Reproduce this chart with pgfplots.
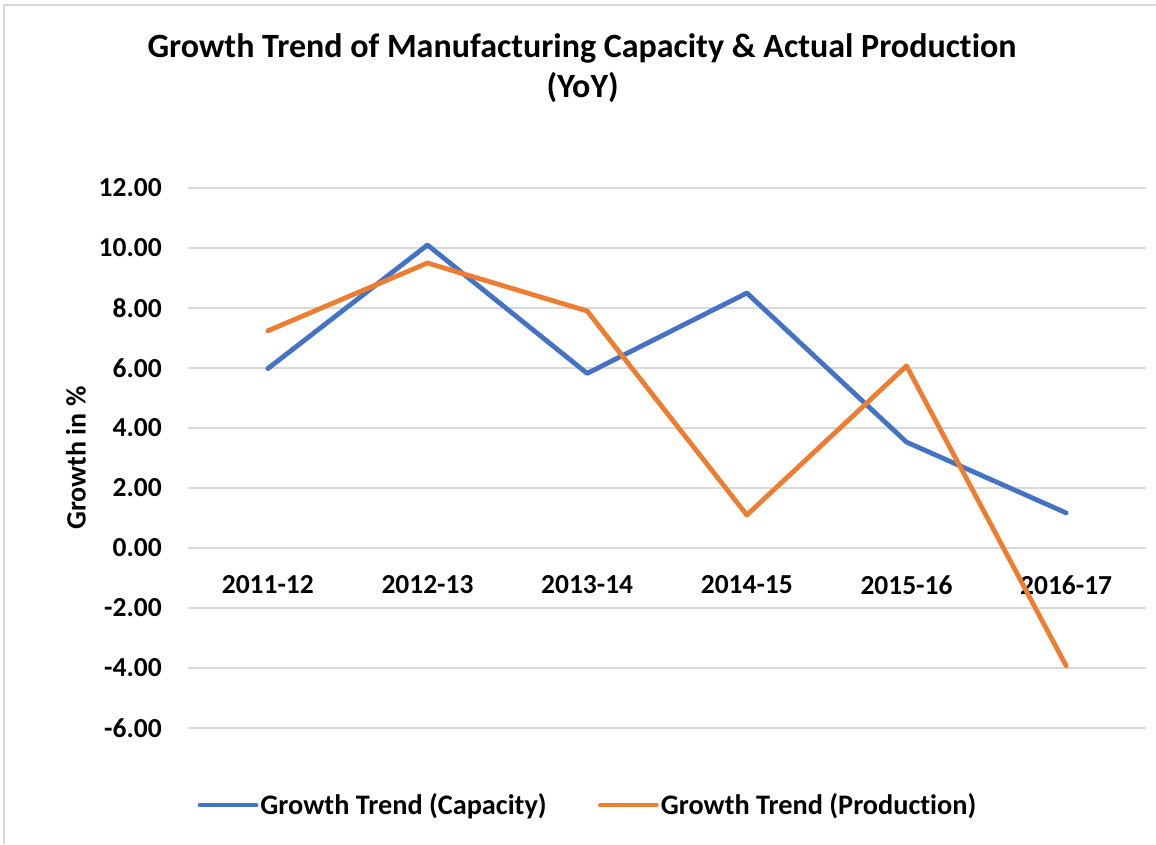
\documentclass[border=0pt]{standalone}
\usepackage{pgfplots}
\pgfplotsset{compat=1.18}
\usepackage{fontspec}
\setmainfont{Carlito}[Ligatures=NoCommon]
\definecolor{capblue}{HTML}{4472C4}
\definecolor{prodorange}{HTML}{ED7D31}
\definecolor{gridgray}{HTML}{D9D9D9}
\begin{document}
\begin{tikzpicture}
\useasboundingbox (0,0) rectangle (867pt,633pt);
\fill[white] (0,0) rectangle (867pt,633pt);
\draw[gridgray, line width=1.5pt] (3pt,0pt) -- (3pt,629.25pt) -- (867pt,629.25pt);
\node[font=\bfseries\fontsize{25.5}{30}\selectfont, anchor=base] at (436.5pt,589.5pt) {Growth Trend of Manufacturing Capacity \& Actual Production};
\node[font=\bfseries\fontsize{25.5}{30}\selectfont, anchor=base] at (437pt,559.5pt) {(YoY)};
\begin{axis}[
  scale only axis,
  width=718.5pt, height=405pt,
  at={(141pt,87pt)}, anchor=south west,
  xmin=-0.5, xmax=5.5,
  ymin=-6, ymax=12,
  xtick={0,1,2,3,4,5},
  xticklabels={2011-12,2012-13,2013-14,2014-15,2015-16,2016-17},
  ytick={-6,-4,-2,0,2,4,6,8,10,12},
  yticklabels={-6.00,-4.00,-2.00,0.00,2.00,4.00,6.00,8.00,10.00,12.00},
  ymajorgrids,
  major grid style={gridgray, line width=1.5pt},
  axis line style={draw=none},
  major tick length=0pt,
  ticklabel style={font=\bfseries\fontsize{20.6}{24}\selectfont},
  xticklabel style={anchor=center, yshift=107.25pt},
  yticklabel style={anchor=east, inner sep=0pt, xshift=-19.5pt},
  ylabel={\bfseries\fontsize{21}{25}\selectfont Growth in \%},
  ylabel style={at={(axis description cs:-0.1169,0.5)}, anchor=center},
  legend columns=2,
  legend style={draw=none, fill=none, at={(rel axis cs:0.4175,-0.1426)}, anchor=center,
    font=\bfseries\fontsize{21.2}{25}\selectfont,
    /tikz/every even column/.append style={column sep=37pt},
    nodes={inner sep=1.5pt}},
  legend image code/.code={\draw[#1, line cap=round] (0pt,0pt) -- (42pt,0pt);},
  clip=false,
]
\addplot[capblue, line width=3.6pt, line cap=round, line join=round] coordinates {
(0,5.98) (1,10.1) (2,5.82) (3,8.5) (4,3.53) (5,1.17)};
\addlegendentry{Growth Trend (Capacity)}
\addplot[prodorange, line width=3.6pt, line cap=round, line join=round] coordinates {
(0,7.24) (1,9.5) (2,7.9) (3,1.1) (4,6.07) (5,-3.93)};
\addlegendentry{Growth Trend (Production)}
\end{axis}
\end{tikzpicture}
\end{document}
